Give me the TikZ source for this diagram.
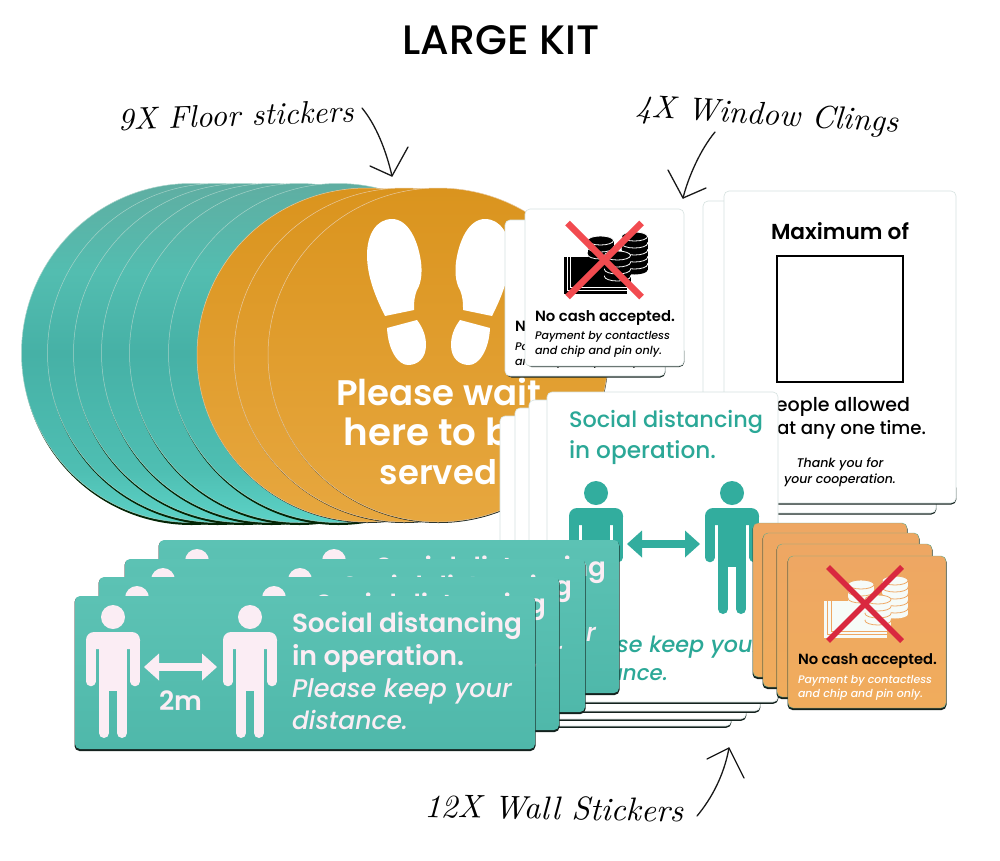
\documentclass[tikz,border=0pt]{standalone}
\usepackage{fontspec}
\usepackage{graphicx}
\setmainfont{Poppins}[UprightFont=* Medium,BoldFont=* SemiBold,ItalicFont=* Medium Italic,BoldItalicFont=* SemiBold Italic]
\newfontfamily\handfont{Latin Modern Roman}
\definecolor{tdA}{HTML}{5CD2C6}
\definecolor{tdB}{HTML}{4EBEB2}
\definecolor{tdC}{HTML}{46B1A6}
\definecolor{tdD}{HTML}{53BDB0}
\definecolor{tdE}{HTML}{5FAEA2}
\definecolor{tealedge}{HTML}{A4D2C8}
\definecolor{orgtop}{HTML}{DA941E}
\definecolor{orgbot}{HTML}{E7A73F}
\definecolor{orgedge}{HTML}{E8C9A0}
\definecolor{longtop}{HTML}{5CC2B4}
\definecolor{longmid}{HTML}{4DB5A7}
\definecolor{longbot}{HTML}{4FB8AA}
\definecolor{pinkwhite}{HTML}{FBEDF4}
\definecolor{walltext}{HTML}{2BA897}
\definecolor{wallman}{HTML}{32AD9E}
\definecolor{darkedge}{HTML}{14221E}
\definecolor{cardedge}{HTML}{D6E2E0}
\definecolor{smallorgtop}{HTML}{EEA763}
\definecolor{smallorgbot}{HTML}{F0AC5C}
\definecolor{redx}{HTML}{D9283F}
\definecolor{coralx}{HTML}{F24B50}
\definecolor{coinwhite}{HTML}{F6FBF8}
\pgfdeclareverticalshading{tealdisc}{100bp}{
  color(0bp)=(tdA);
  color(25bp)=(tdA);
  color(33bp)=(tdB);
  color(50bp)=(tdC);
  color(62bp)=(tdD);
  color(75bp)=(tdE);
  color(100bp)=(tdE)}
\tikzset{
  whitecard/.style={fill=white,draw=cardedge,line width=.6pt},
  longcard/.style={top color=longtop,middle color=longmid,bottom color=longbot},
  orgcard/.style={top color=smallorgtop,bottom color=smallorgbot,draw=wallman!70!smallorgtop,line width=.4pt},
  lab/.style={inner sep=0pt,outer sep=0pt},
  handline/.style={line width=1.3pt,black!90,line cap=round,line join=round}
}
% name, x, y, anchor, width, font, colour, text
\newcommand\lbl[8]{\node[lab,anchor=#4,text=#7] (#1) at (#2,#3) {\resizebox{#5pt}{!}{#6#8}};}
\newcommand\card[5]{%
  \fill[darkedge,rounded corners=5pt] ({#1-.5},{#2+1}) rectangle ({#3+.5},{#4+2});
  \path[#5,rounded corners=5pt] (#1,#2) rectangle (#3,#4);}
% white card: the dark edge shows along the bottom only; x1,y1,x2,y2,shadow depth
\newcommand\wcard[5]{%
  \fill[darkedge,rounded corners=5pt] ({#1+1.5},{#4-20}) rectangle ({#3+.3},{#4+#5});
  \path[whitecard,rounded corners=5pt] (#1,#2) rectangle (#3,#4);}
\newcommand\person[3]{\begin{scope}[shift={(#1,#2)},#3]
  \fill (0,12) circle[radius=12];
  \fill[rounded corners=8pt] (-27,44) -- (-27,27) -- (27,27) -- (27,44) -- cycle;
  \fill (-14,30) rectangle (14,86);
  \draw[line width=9.5pt,line cap=round] (-22.2,36) -- (-22.2,76.5);
  \draw[line width=9.5pt,line cap=round] (22.2,36) -- (22.2,76.5);
  \draw[line width=10pt,line cap=round] (-9,80) -- (-9,128);
  \draw[line width=10pt,line cap=round] (9,80) -- (9,128);
  \end{scope}}
\newcommand\dblarrow[4]{\fill[#4] (#1,#3) -- ({#1+15},{#3-13.5}) -- ({#1+15},{#3-3.8}) -- ({#2-15},{#3-3.8}) -- ({#2-15},{#3-13.5}) -- (#2,#3) -- ({#2-15},{#3+13.5}) -- ({#2-15},{#3+3.8}) -- ({#1+15},{#3+3.8}) -- ({#1+15},{#3+13.5}) -- cycle;}
% x, bottom y, n coins, fg, bg
\newcommand\coins[5]{\foreach \ci in {1,...,#3}{
   \fill[#4] ({#1},{#2-(\ci-1)*7}) ellipse[x radius=13,y radius=4.5];
   \fill[#4] ({#1-13},{#2-(\ci-1)*7}) rectangle ({#1+13},{#2-(\ci-1)*7-5.5});
   \filldraw[fill=#4,draw=#5,line width=.8pt] ({#1},{#2-(\ci-1)*7-5.5}) ellipse[x radius=13,y radius=4.5];}}
% cx, cy, fg, bg, x colour, x width
\newcommand\cashicon[6]{\begin{scope}[shift={(#1,#2)}]
  \fill[#3] (-41,-3) rectangle (22,34);
  \draw[#4,line width=.6pt] (-37.5,-3) -- (-37.5,30.5) -- (22,30.5);
  \draw[#4,line width=.6pt] (-34,-3) -- (-34,27.5) -- (22,27.5);
  \coins{30}{10}{5}{#3}{#4}
  \coins{-4}{0}{3}{#3}{#4}
  \coins{13}{22}{4}{#3}{#4}
  \draw[#5,line width=#6pt] (-37,-37) -- (37,37);
  \draw[#5,line width=#6pt] (37,-37) -- (-37,37);
  \end{scope}}
% name, left, top
\newcommand\longsticker[3]{%
  \card{#2}{#3}{#2+460}{#3+153}{longcard}
  \person{#2+38}{#3+9}{pinkwhite}
  \person{#2+175}{#3+9}{pinkwhite}
  \dblarrow{#2+69}{#2+142}{#3+71}{pinkwhite}
  \lbl{#1a}{#2+84}{#3+114}{base west}{43}{\bfseries}{pinkwhite}{2m}
  \lbl{#1b}{#2+217}{#3+36}{base west}{230}{\bfseries}{pinkwhite}{Social distancing}
  \lbl{#1c}{#2+217}{#3+69}{base west}{172}{\bfseries}{pinkwhite}{in operation.}
  \lbl{#1d}{#2+217}{#3+101}{base west}{220}{\itshape}{pinkwhite}{Please keep your}
  \lbl{#1e}{#2+217}{#3+133}{base west}{116}{\itshape}{pinkwhite}{distance.}}
\newcommand\footshape{%
  \fill[white] (392,219) .. controls (376,219) and (367,235) .. (367,255) .. controls (367,278) and (377,300) .. (385,316) -- (414,310) .. controls (414,302) and (414,298) .. (417,290) .. controls (422,282) and (422,270) .. (421,262) .. controls (418,240) and (408,219) .. (392,219) -- cycle;
  \fill[white] (387,328) -- (417,320) .. controls (423,328) and (426,336) .. (426,345) .. controls (426,358) and (418,365) .. (408,365) .. controls (398,365) and (388,350) .. (387,328) -- cycle;}
\begin{document}
\begin{tikzpicture}[x=1pt,y=-1pt]
\useasboundingbox (0,0) rectangle (1000,860);
\fill[white] (0,0) rectangle (1000,860);
% floor stickers
\foreach \cx in {191,217,243,271,299,338}{
  \fill[darkedge!60!green!30!black] (\cx+.5,356) circle[radius=169];
  \shade[shading=tealdisc] (\cx,353) circle[radius=169.5];
  \draw[tealedge,line width=.5pt] (\cx,353) circle[radius=169.5];
}
\foreach \cx in {367,404,438}{
  \fill[darkedge] (\cx+.5,356) ellipse[x radius=170,y radius=167];
  \shade[top color=orgtop,bottom color=orgbot] (\cx,355) ellipse[x radius=170,y radius=167];
  \draw[orgedge,line width=.5pt] (\cx,355) ellipse[x radius=170,y radius=167];
}
\footshape
\begin{scope}[shift={(877,0)},xscale=-1]\footshape\end{scope}
\lbl{wait}{438.5}{405}{base}{205}{\bfseries}{white}{Please wait}
\lbl{here}{438.5}{445}{base}{190}{\bfseries}{white}{here to be}
\lbl{served}{438.5}{484}{base}{117}{\bfseries}{white}{served}
% small window clings
\wcard{505}{220}{665}{376}{1.5}
\lbl{nb}{515}{331}{base west}{140}{\bfseries}{black}{No cash accepted.}
\lbl{pb}{515}{350}{base west}{135}{\itshape}{black}{Payment by contactless}
\lbl{ab}{515}{365}{base west}{127}{\itshape}{black}{and chip and pin only.}
\wcard{525}{209}{684}{366}{1}
\cashicon{604.5}{260}{black}{white}{coralx}{6.5}
\lbl{n}{535}{321}{base west}{140}{\bfseries}{black}{No cash accepted.}
\lbl{p}{535}{339}{base west}{135}{\itshape}{black}{Payment by contactless}
\lbl{a}{535}{354}{base west}{127}{\itshape}{black}{and chip and pin only.}
% large window clings
\wcard{703}{201}{936}{513}{1.5}
\wcard{724}{191}{956}{503}{1.5}
\lbl{max}{840}{239}{base}{138}{\bfseries}{black}{Maximum of}
\draw[black,line width=2.4pt] (777,256) rectangle (903,382);
\lbl{people}{836.5}{411}{base}{147}{}{black}{people allowed}
\lbl{time}{851.5}{434}{base}{149}{}{black}{at any one time.}
\lbl{thank}{840}{467}{base}{87}{\itshape}{black}{Thank you for}
\lbl{coop}{840}{483}{base}{112}{\itshape}{black}{your cooperation.}
% wall stickers, white
\wcard{500}{416}{731}{726}{1.8}
\wcard{515}{408}{746}{719}{1.8}
\wcard{529}{400}{760}{711}{1.8}
\wcard{547}{392}{778}{702}{1.8}
\lbl{wsd}{569}{427}{base west}{194}{}{walltext}{Social distancing}
\lbl{wio}{569}{458}{base west}{147}{}{walltext}{in operation.}
\lbl{wpk}{569}{652}{base west}{192}{\itshape}{walltext}{Please keep your}
\lbl{wdi}{569}{680}{base west}{99}{\itshape}{walltext}{distance.}
\person{596}{481}{wallman}
\person{732}{481}{wallman}
\dblarrow{627}{700}{544}{wallman}
% wall stickers, long
\longsticker{ld}{159}{540}
\longsticker{lc}{125}{559}
\longsticker{lb}{99}{577}
\longsticker{la}{75}{596}
% small orange
\card{753}{523}{907}{677}{orgcard}
\card{763}{533}{919}{687}{orgcard}
\card{777}{544}{932}{697}{orgcard}
\card{788}{556}{946}{708}{orgcard}
\cashicon{865}{604}{coinwhite}{smallorgtop}{redx}{5.5}
\lbl{on}{798}{664}{base west}{139}{\bfseries}{black}{No cash accepted.}
\lbl{op}{798}{683}{base west}{134}{\itshape}{white}{Payment by contactless}
\lbl{oa}{798}{697}{base west}{125}{\itshape}{white}{and chip and pin only.}
% title and hand labels
\lbl{title}{501}{54}{base}{197}{}{black}{LARGE KIT}
\node[lab,anchor=base west,rotate=2] (floorlbl) at (118,130) {\resizebox{236pt}{!}{\handfont\itshape 9X Floor stickers}};
\node[lab,anchor=base west,rotate=-3.3] (windowlbl) at (635,117) {\resizebox{263pt}{!}{\handfont\itshape 4X Window Clings}};
\node[lab,anchor=base west,rotate=-1.1] (walllbl) at (424,817) {\resizebox{259pt}{!}{\handfont\itshape 12X Wall Stickers}};
\coordinate (floortail) at (362,108);
\coordinate (floortip) at (392,176);
\coordinate (windowtail) at (715,132);
\coordinate (windowtip) at (683,198);
\coordinate (walltail) at (697,816);
\coordinate (walltip) at (729,748);
\draw[handline] (floortail) .. controls (376,125) and (386,150) .. (floortip);
\draw[handline] (370,166) -- (floortip) -- (408,147);
\draw[handline] (windowtail) .. controls (700,150) and (688,178) .. (windowtip);
\draw[handline] (668,170) -- (windowtip) -- (706,188);
\draw[handline] (walltail) .. controls (712,798) and (724,775) .. (walltip);
\draw[handline] (707,759) -- (walltip) -- (744,778);
\end{tikzpicture}
\end{document}
